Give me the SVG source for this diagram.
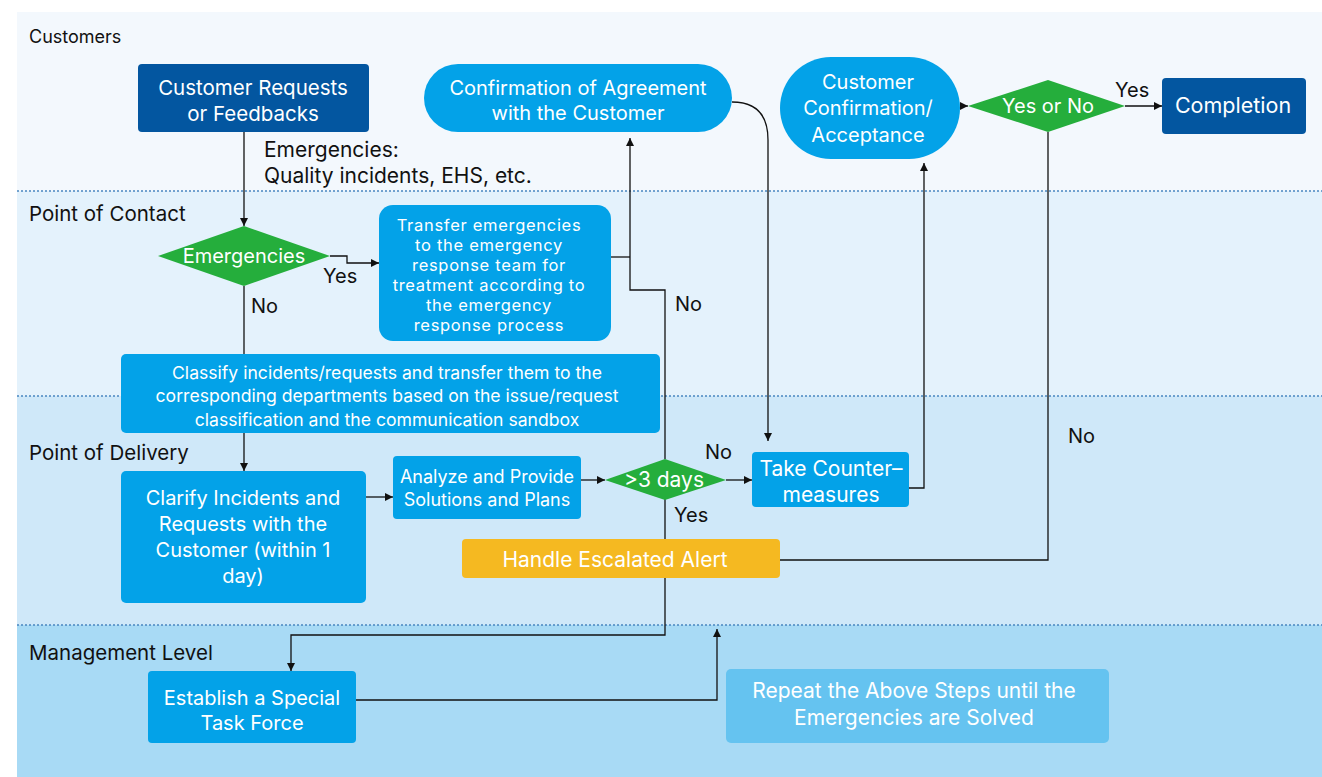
<svg xmlns="http://www.w3.org/2000/svg" width="1322" height="777" viewBox="0 0 1322 777">
<defs>
<marker id="ah" viewBox="0 0 10 10" refX="10" refY="5" markerWidth="8" markerHeight="8" markerUnits="userSpaceOnUse" orient="auto">
<path d="M0,0 L10,5 L0,10 z" fill="#111"/>
</marker>
<style>
text{font-family:Inter,"Noto Sans","Liberation Sans",sans-serif;}
.lane{font-size:20.5px;fill:#111;}
.lbl{font-size:20px;fill:#111;}
.nt{fill:#fff;text-anchor:middle;font-size:20px;}
.nb{fill:#fff;text-anchor:middle;font-size:21px;}
.ns{fill:#fff;text-anchor:middle;font-size:18px;}
.tr{fill:#fff;text-anchor:middle;font-size:16.5px;letter-spacing:0.7px;}
.dark{fill:#0356a0;}
.blue{fill:#03a2e8;}
.green{fill:#25ae3c;}
.sep{stroke:#4a86c0;stroke-width:1.3;stroke-dasharray:2 2;fill:none;}
.cn{stroke:#111;stroke-width:1.3;fill:none;}
.ca{stroke:#111;stroke-width:1.3;fill:none;marker-end:url(#ah);}
</style>
</defs>
<rect width="1322" height="777" fill="#fff"/>
<g id="lanes">
<rect x="17" y="12" width="1305" height="179" fill="#f3f8fd"/>
<rect x="17" y="191" width="1305" height="205" fill="#e4f2fc"/>
<rect x="17" y="396" width="1305" height="229" fill="#cfe8f9"/>
<rect x="17" y="625" width="1305" height="152" fill="#a8daf5"/>
<line class="sep" x1="17" y1="191" x2="1322" y2="191"/>
<line class="sep" x1="17" y1="396" x2="1322" y2="396"/>
<line class="sep" x1="17" y1="625" x2="1322" y2="625"/>
<text class="lane" x="29" y="43" style="font-size:18px">Customers</text>
<text class="lane" x="29" y="221">Point of Contact</text>
<text class="lane" x="29" y="460">Point of Delivery</text>
<text class="lane" x="29" y="660">Management Level</text>
</g>
<g id="connectors">
<path class="ca" d="M244,132 V226"/>
<path class="ca" d="M330,256 H347 V263 H379"/>
<path class="cn" d="M244,286 V354"/>
<path class="ca" d="M244,433 V471"/>
<path class="ca" d="M366,497 H393"/>
<path class="ca" d="M581,480 H605"/>
<path class="ca" d="M726,480 H752"/>
<path class="ca" d="M665,499 V635 H291 V671"/>
<path class="ca" d="M665,459 V290 H630 V138"/>
<path class="cn" d="M611,257 H630"/>
<path class="ca" d="M732,102 Q768,102 768,140 V441"/>
<path class="ca" d="M909,488 H924 V163"/>
<path class="ca" d="M960,106 H968"/>
<path class="ca" d="M1125,106 H1162"/>
<path class="cn" d="M1048,132 V560 H780"/>
<path class="ca" d="M356,700 H717 V629"/>
<text class="lbl" x="264" y="157" style="font-size:21px">Emergencies:</text>
<text class="lbl" x="264" y="183" style="font-size:21px">Quality incidents, EHS, etc.</text>
<text class="lbl" x="323" y="283">Yes</text>
<text class="lbl" x="251" y="313">No</text>
<text class="lbl" x="675" y="311">No</text>
<text class="lbl" x="705" y="459">No</text>
<text class="lbl" x="674" y="522">Yes</text>
<text class="lbl" x="1068" y="443">No</text>
<text class="lbl" x="1115" y="97">Yes</text>
</g>
<g id="n-requests">
<rect class="dark" x="138" y="64" width="231" height="68" rx="4"/>
<text class="nt" x="253" y="95" style="font-size:20.5px">Customer Requests</text>
<text class="nt" x="253" y="121" style="font-size:20.5px">or Feedbacks</text>
</g>
<g id="n-agreement">
<rect class="blue" x="424" y="64" width="308" height="68" rx="34"/>
<text class="nt" x="578" y="95">Confirmation of Agreement</text>
<text class="nt" x="578" y="120">with the Customer</text>
</g>
<g id="n-acceptance">
<rect class="blue" x="780" y="57" width="180" height="102" rx="51"/>
<text class="nt" x="868" y="89">Customer</text>
<text class="nt" x="868" y="115">Confirmation/</text>
<text class="nt" x="868" y="142">Acceptance</text>
</g>
<g id="n-yesno">
<polygon class="green" points="968,106 1048,80 1125,106 1048,132"/>
<text class="nt" x="1048" y="113">Yes or No</text>
</g>
<g id="n-completion">
<rect class="dark" x="1162" y="78" width="144" height="56" rx="4"/>
<text class="nb" x="1233" y="113" style="font-size:21.5px">Completion</text>
</g>
<g id="n-emergencies">
<polygon class="green" points="158,256 244,226 330,256 244,286"/>
<text class="nt" x="244" y="263">Emergencies</text>
</g>
<g id="n-transfer">
<rect class="blue" x="379" y="205" width="232" height="136" rx="14"/>
<text class="tr" x="489" y="231">Transfer emergencies</text>
<text class="tr" x="489" y="251">to the emergency</text>
<text class="tr" x="489" y="271">response team for</text>
<text class="tr" x="489" y="291">treatment according to</text>
<text class="tr" x="489" y="311">the emergency</text>
<text class="tr" x="489" y="331">response process</text>
</g>
<g id="n-classify">
<rect class="blue" x="121" y="354" width="539" height="79" rx="5"/>
<text class="ns" x="387" y="379" style="font-size:17.6px">Classify incidents/requests and transfer them to the</text>
<text class="ns" x="387" y="402" style="font-size:17.6px">corresponding departments based on the issue/request</text>
<text class="ns" x="387" y="426" style="font-size:17.6px">classification and the communication sandbox</text>
</g>
<g id="n-clarify">
<rect class="blue" x="121" y="471" width="245" height="132" rx="5"/>
<text class="nt" x="243" y="505">Clarify Incidents and</text>
<text class="nt" x="243" y="531">Requests with the</text>
<text class="nt" x="243" y="557">Customer (within 1</text>
<text class="nt" x="243" y="583">day)</text>
</g>
<g id="n-analyze">
<rect class="blue" x="393" y="456" width="188" height="63" rx="4"/>
<text class="ns" x="487" y="483">Analyze and Provide</text>
<text class="ns" x="487" y="506">Solutions and Plans</text>
</g>
<g id="n-days">
<polygon class="green" points="605,480 665,459 726,480 665,500"/>
<text class="nb" x="664" y="487">&gt;3 days</text>
</g>
<g id="n-counter">
<rect class="blue" x="752" y="452" width="157" height="55" rx="4"/>
<text class="nb" x="831" y="476">Take Counter–</text>
<text class="nb" x="831" y="502">measures</text>
</g>
<g id="n-escalated">
<rect x="462" y="539" width="318" height="39" rx="4" fill="#f5b921"/>
<text class="nb" x="615" y="567">Handle Escalated Alert</text>
</g>
<g id="n-taskforce">
<rect class="blue" x="148" y="671" width="208" height="72" rx="4"/>
<text class="nt" x="252" y="705">Establish a Special</text>
<text class="nt" x="252" y="730">Task Force</text>
</g>
<g id="n-repeat">
<rect x="726" y="669" width="383" height="74" rx="5" fill="#65c3f0"/>
<text class="nb" x="914" y="698">Repeat the Above Steps until the</text>
<text class="nb" x="914" y="725">Emergencies are Solved</text>
</g>
</svg>
